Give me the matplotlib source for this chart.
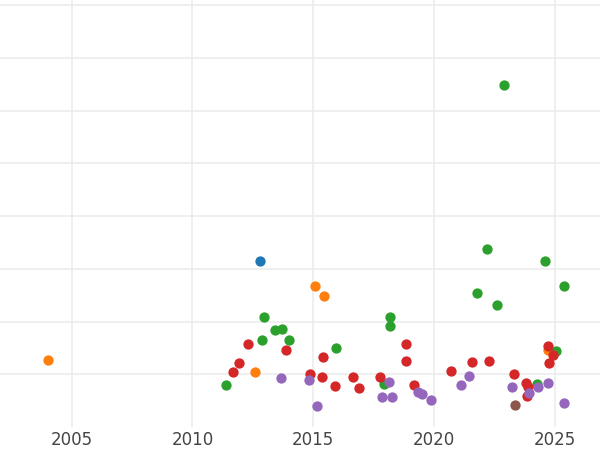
import matplotlib
matplotlib.use("Agg")
import matplotlib.pyplot as plt

# values (x = year, y = in units of one grid step)
blue_x = [2012.80]
blue_y = [3.15]

orange_x = [2004.03, 2012.59, 2015.07, 2015.44, 2024.71]
orange_y = [1.28, 1.05, 2.68, 2.49, 1.47]

green_x = [2011.39, 2012.96, 2012.88, 2013.42, 2013.71, 2014.00, 2015.94, 2018.17, 2018.17,
           2017.93, 2022.89, 2022.19, 2021.77, 2022.60, 2024.59, 2025.37, 2025.04, 2024.26]
green_y = [0.79, 2.09, 1.66, 1.84, 1.86, 1.66, 1.50, 2.09, 1.91,
           0.82, 6.49, 3.38, 2.55, 2.32, 3.15, 2.68, 1.45, 0.82]

red_x = [2011.68, 2011.93, 2012.30, 2013.87, 2014.87, 2015.36, 2015.40, 2015.90, 2016.64,
         2016.89, 2017.76, 2018.84, 2018.84, 2019.17, 2020.70, 2021.57, 2022.27, 2023.30,
         2023.80, 2023.88, 2023.84, 2024.71, 2024.92, 2024.75]
red_y = [1.05, 1.22, 1.58, 1.46, 1.01, 0.95, 1.33, 0.78, 0.95,
         0.74, 0.95, 1.58, 1.26, 0.80, 1.07, 1.24, 1.26, 1.00,
         0.84, 0.76, 0.58, 1.54, 1.37, 1.22]

purple_x = [2013.67, 2014.82, 2015.16, 2017.84, 2018.13, 2018.26, 2019.33, 2019.50, 2019.87,
            2021.11, 2021.44, 2023.22, 2023.92, 2024.30, 2024.71, 2025.37]
purple_y = [0.93, 0.89, 0.40, 0.57, 0.86, 0.57, 0.67, 0.63, 0.52,
            0.80, 0.97, 0.76, 0.65, 0.76, 0.84, 0.46]

brown_x = [2023.35]
brown_y = [0.42]

fig = plt.figure(figsize=(6, 4.5), dpi=100)
ax = fig.add_axes([0, 0.051, 1, 0.949])

series = [
    (blue_x, blue_y, "tab:blue"),
    (orange_x, orange_y, "tab:orange"),
    (green_x, green_y, "tab:green"),
    (red_x, red_y, "tab:red"),
    (purple_x, purple_y, "tab:purple"),
    (brown_x, brown_y, "tab:brown"),
]
for xs, ys, c in series:
    ax.scatter(xs, ys, s=55, color=c, linewidths=0, zorder=3)

ax.set_xlim(2002.04, 2026.86)
ax.set_ylim(0, 8.1)
ax.set_xticks([2005, 2010, 2015, 2020, 2025])
ax.set_yticks(range(1, 9))
ax.set_yticklabels([])
ax.grid(True, color="#ebebeb", linewidth=1.1, zorder=0)
ax.set_axisbelow(True)
for s in ax.spines.values():
    s.set_visible(False)
ax.tick_params(axis="both", length=0)
ax.tick_params(axis="x", labelsize=12, labelcolor="#444444", pad=3)

fig.savefig("out.png", dpi=100)
